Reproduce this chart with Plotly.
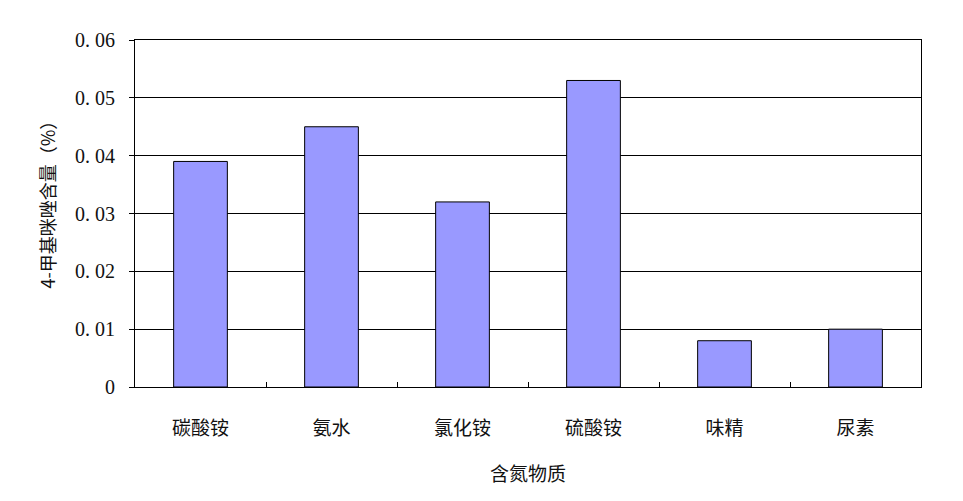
import plotly.graph_objects as go

categories = ["碳酸铵", "氨水", "氯化铵", "硫酸铵", "味精", "尿素"]
values = [0.039, 0.045, 0.032, 0.053, 0.008, 0.010]
y_ticks = [0, 0.01, 0.02, 0.03, 0.04, 0.05, 0.06]
y_tick_labels = ["0", "0. 01", "0. 02", "0. 03", "0. 04", "0. 05", "0. 06"]
y_title = "4-甲基咪唑含量（%）"

FONT = "Liberation Serif, Noto Sans CJK SC, serif"

fig = go.Figure()
fig.add_trace(go.Bar(
    x=categories, y=values,
    marker=dict(color="#9999FF", line=dict(color="#000000", width=1)),
    width=0.41,
))

fig.update_layout(
    width=963, height=501,
    margin=dict(l=127, r=50, t=32, b=122),
    paper_bgcolor="white", plot_bgcolor="white",
    showlegend=False,
    font=dict(family=FONT, color="#111111", size=18),
    bargap=0.59,
)
fig.update_xaxes(
    automargin=False,
    showline=True, linecolor="#000000", linewidth=1, mirror=True,
    ticks="inside", ticklen=5, tickcolor="#000000", tickson="boundaries",
    ticklabelstandoff=24,
    tickfont=dict(size=19, family="Noto Sans CJK SC"),
    title=dict(text="含氮物质", font=dict(size=19, family="Noto Sans CJK SC"), standoff=28),
    showgrid=False,
)
fig.update_yaxes(
    automargin=False,
    range=[0, 0.06],
    tickvals=y_ticks, ticktext=y_tick_labels,
    showline=True, linecolor="#000000", linewidth=1, mirror=True,
    ticks="outside", ticklen=5, tickcolor="#000000",
    ticklabelstandoff=10,
    showgrid=True, gridcolor="#000000", gridwidth=1,
    zeroline=False,
    tickfont=dict(size=20, family=FONT),
)
fig.add_annotation(
    text=y_title, textangle=-90,
    xref="paper", yref="paper", x=-0.112, y=0.54,
    xanchor="center", yanchor="middle", showarrow=False,
    font=dict(size=18, family="Noto Sans CJK SC", color="#111111"),
)

fig.write_html("out.html")
